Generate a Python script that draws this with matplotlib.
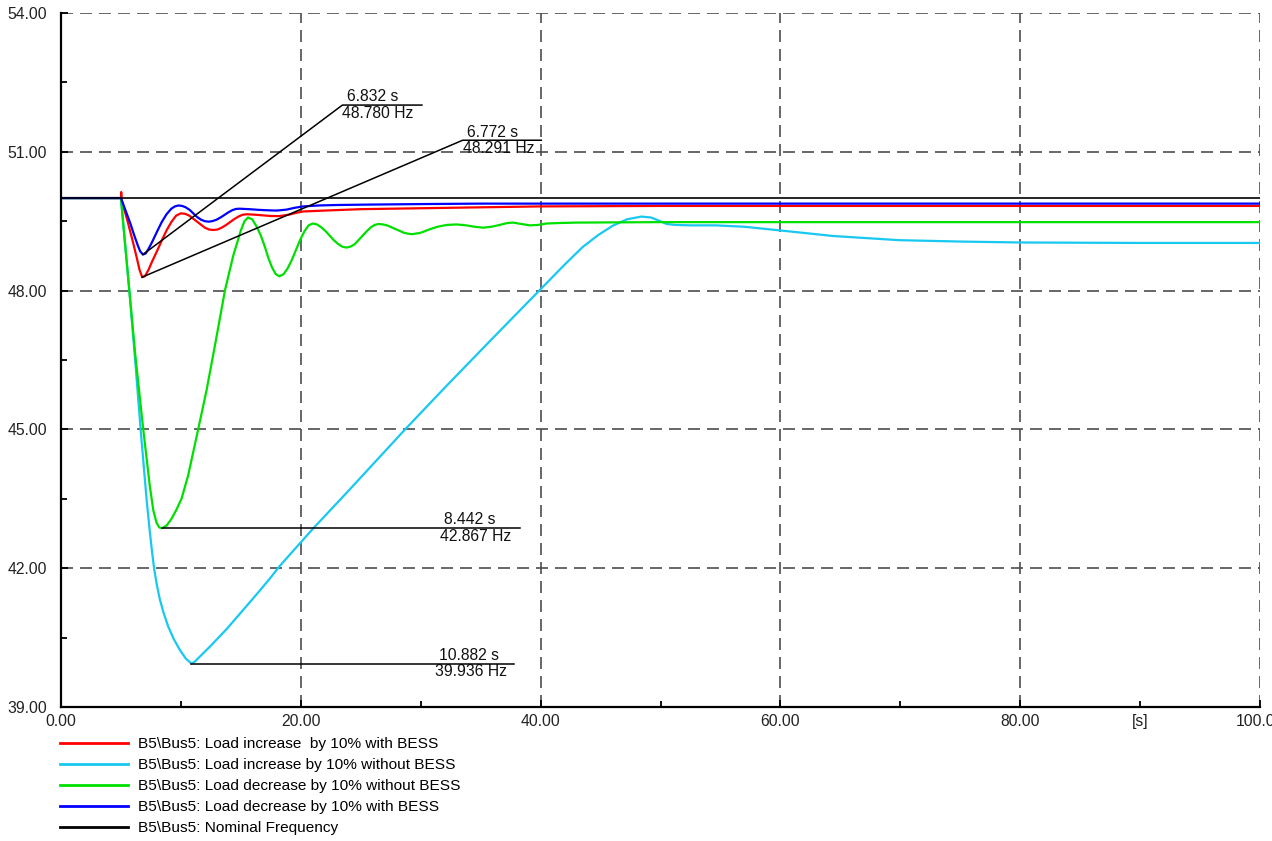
import matplotlib
matplotlib.use("Agg")
import matplotlib.pyplot as plt
from matplotlib.ticker import MultipleLocator, FormatStrFormatter
from matplotlib.lines import Line2D

plt.rcParams['font.family'] = ['Liberation Sans', 'DejaVu Sans']

# --- data (time in s, frequency in Hz) ---
red_t = [0, 5.0, 5.02, 5.06, 5.5, 6.0, 6.3, 6.55, 6.77, 7.0, 7.3, 7.6, 8.0, 8.4, 8.8,
         9.2, 9.6, 10.0, 10.35, 10.7, 11.0, 11.35, 11.7, 12.0, 12.35, 12.7, 13.05, 13.4,
         13.75, 14.1, 14.45, 14.8, 15.15, 15.5, 16.2, 16.9, 17.5, 18.2, 19.0, 19.6, 20.2,
         22.0, 25.0, 30.0, 35.0, 40.0, 50.0, 60.0, 80.0, 100.0]
red_f = [50.0, 50.0, 50.13, 49.95, 49.55, 49.05, 48.73, 48.45, 48.29, 48.31, 48.45,
         48.63, 48.85, 49.08, 49.3, 49.48, 49.62, 49.67, 49.66, 49.62, 49.56, 49.49,
         49.42, 49.36, 49.32, 49.31, 49.32, 49.36, 49.415, 49.48, 49.545, 49.6, 49.64,
         49.65, 49.64, 49.625, 49.612, 49.61, 49.64, 49.68, 49.71, 49.73, 49.76, 49.78,
         49.8, 49.82, 49.83, 49.83, 49.83, 49.83]

cyan_t = [0, 5.0, 5.35, 5.7, 6.2, 6.64, 7.14, 7.42, 7.6, 7.78, 8.0, 8.25, 8.55, 8.94,
          9.4, 9.92, 10.4, 10.88, 11.2, 11.58, 12.4, 13.8, 15.2, 16.3, 17.4, 18.25, 21.0,
          24.0, 28.7, 32.0, 36.0, 40.0, 42.0, 43.5, 44.8, 46.0, 47.2, 48.4, 49.2, 49.9,
          50.5, 51.2, 52.5, 54.6, 57.0, 60.0, 64.4, 69.9, 75.0, 80.0, 90.0, 100.0]
cyan_f = [50.0, 50.0, 49.0, 48.0, 46.45, 45.0, 43.48, 42.76, 42.34, 41.97, 41.63,
          41.32, 41.04, 40.74, 40.47, 40.23, 40.05, 39.936, 39.99, 40.09, 40.3, 40.68,
          41.1, 41.43, 41.77, 42.05, 42.85, 43.68, 45.0, 45.9, 46.97, 48.03, 48.56,
          48.94, 49.2, 49.4, 49.54, 49.6, 49.58, 49.51, 49.44, 49.42, 49.41, 49.41,
          49.38, 49.3, 49.18, 49.09, 49.06, 49.04, 49.03, 49.03]

green_t = [0, 5.0, 5.3, 5.7, 6.2, 6.86, 7.42, 7.7, 7.97, 8.2, 8.44, 8.8, 9.2, 9.6,
           10.05, 10.6, 11.44, 12.15, 12.9, 13.67, 14.36, 15.0, 15.3, 15.6, 15.95, 16.3,
           16.65, 17.0, 17.3, 17.6, 17.9, 18.2, 18.55, 18.9, 19.25, 19.6, 19.95, 20.3,
           20.65, 21.0, 21.35, 21.7, 22.05, 22.4, 22.75, 23.1, 23.45, 23.8, 24.14, 24.48,
           24.81, 25.15, 25.49, 25.83, 26.16, 26.5, 26.85, 27.2, 27.55, 27.9, 28.25,
           28.6, 28.95, 29.3, 30.0, 30.7, 31.4, 32.2, 33.0, 33.8, 34.5, 35.2, 35.9, 36.6,
           37.2, 37.7, 38.4, 39.1, 39.8, 40.5, 41.5, 43.0, 50.0, 60.0, 80.0, 100.0]
green_f = [50.0, 50.0, 49.13, 48.0, 46.6, 45.0, 43.75, 43.25, 42.98, 42.88, 42.867,
           42.92, 43.06, 43.25, 43.5, 44.0, 45.0, 45.86, 46.9, 48.0, 48.75, 49.3, 49.5,
           49.58, 49.54, 49.39, 49.2, 48.95, 48.7, 48.5, 48.36, 48.31, 48.35, 48.48,
           48.66, 48.88, 49.1, 49.28, 49.41, 49.45, 49.43, 49.37, 49.29, 49.19, 49.09,
           49.01, 48.95, 48.93, 48.95, 49.0, 49.09, 49.185, 49.28, 49.365, 49.42, 49.44,
           49.43, 49.41, 49.37, 49.33, 49.29, 49.25, 49.23, 49.22, 49.25, 49.32, 49.38,
           49.42, 49.43, 49.41, 49.38, 49.36, 49.38, 49.42, 49.46, 49.47, 49.44, 49.41,
           49.42, 49.45, 49.46, 49.47, 49.48, 49.48, 49.48, 49.48]

blue_t = [0, 5.0, 5.4, 5.8, 6.1, 6.4, 6.6, 6.83, 7.05, 7.3, 7.6, 8.0, 8.4, 8.8, 9.2,
          9.5, 9.8, 10.1, 10.4, 10.75, 11.05, 11.35, 11.7, 12.0, 12.3, 12.6, 12.95, 13.3,
          13.6, 13.95, 14.3, 14.6, 14.9, 15.7, 16.5, 17.3, 18.0, 18.8, 19.5, 20.2, 21.5,
          23.0, 26.0, 30.0, 35.0, 40.0, 50.0, 60.0, 80.0, 100.0]
blue_f = [50.0, 50.0, 49.72, 49.44, 49.2, 48.98, 48.85, 48.78, 48.8, 48.9, 49.05,
          49.27, 49.48, 49.65, 49.77, 49.82, 49.84, 49.83, 49.8, 49.74, 49.665, 49.59,
          49.53, 49.5, 49.49, 49.5, 49.53, 49.58, 49.63, 49.69, 49.74, 49.765, 49.77,
          49.76, 49.745, 49.735, 49.73, 49.75, 49.79, 49.82, 49.84, 49.85, 49.86, 49.87,
          49.88, 49.88, 49.88, 49.88, 49.88, 49.88]

nominal_t = [0, 100.0]
nominal_f = [50.0, 50.0]

series_labels = [
    "B5\\Bus5: Load increase  by 10% with BESS",
    "B5\\Bus5: Load increase by 10% without BESS",
    "B5\\Bus5: Load decrease by 10% without BESS",
    "B5\\Bus5: Load decrease by 10% with BESS",
    "B5\\Bus5: Nominal Frequency",
]

# annotated extrema
ann_t = [6.832, 6.772, 8.442, 10.882]
ann_f = [48.780, 48.291, 42.867, 39.936]

# label anchor (start of underline) and underline end, in data units
lab_x = [23.47, 33.5, 31.6, 31.17]
lab_y = [52.01, 51.25, 42.867, 39.936]
lab_end = [30.1, 40.06, 38.25, 37.8]

colors = ['#ff0000', '#18c8f0', '#00e000', '#0000ff', '#000000']
FS = 11.3

fig = plt.figure(figsize=(12.72, 8.41), dpi=100)
ax = fig.add_axes([61 / 1272, 1 - 707 / 841, 1199 / 1272, 694 / 841])

for (t, f), c in zip([(red_t, red_f), (cyan_t, cyan_f), (green_t, green_f),
                      (blue_t, blue_f)], colors[:4]):
    ax.plot(t, f, color=c, lw=1.6, zorder=3)
ax.plot(nominal_t, nominal_f, color='black', lw=1.2, zorder=4)

# annotation leaders
for t, f, lx, ly, le in zip(ann_t, ann_f, lab_x, lab_y, lab_end):
    ax.plot([t, lx, le], [f, ly, ly], color='black', lw=1.1, zorder=5)
    ax.annotate(f"{t:.3f} s", xy=(lx, ly), xytext=(3, 0.5), textcoords='offset points',
                ha='left', va='bottom', fontsize=FS, color='#111111')
    ax.annotate(f"{f:.3f} Hz", xy=(lx, ly), xytext=(0, -0.5), textcoords='offset points',
                ha='left', va='top', fontsize=FS, color='#111111')

ax.set_xlim(0, 100)
ax.set_ylim(39, 54)
ax.xaxis.set_major_locator(MultipleLocator(20))
ax.xaxis.set_minor_locator(MultipleLocator(10))
ax.yaxis.set_major_locator(MultipleLocator(3))
ax.yaxis.set_minor_locator(MultipleLocator(1.5))
ax.xaxis.set_major_formatter(FormatStrFormatter('%.2f'))
ax.yaxis.set_major_formatter(FormatStrFormatter('%.2f'))
ax.tick_params(which='both', direction='in', color='black', width=1.3, labelsize=FS,
               labelcolor='#222222')
ax.tick_params(which='major', length=5)
ax.tick_params(which='minor', length=4)
ax.tick_params(axis='y', pad=10)
ax.tick_params(axis='x', pad=5)

ax.grid(True, which='major', color='#4d4d4d', lw=1.2, linestyle=(0, (7.2, 4.2)))
for side in ['top', 'right']:
    ax.spines[side].set_visible(False)
for side in ['left', 'bottom']:
    ax.spines[side].set_linewidth(1.6)
    ax.spines[side].set_zorder(6)

ax.annotate("[s]", xy=(90, 39), xytext=(0, -5), textcoords='offset points',
            ha='center', va='top', fontsize=FS, color='#222222')

handles = [Line2D([], [], color=c, lw=2) for c in colors]
fig.legend(handles, series_labels, loc='upper left',
           bbox_to_anchor=(60 / 1272, 1 - 737 / 841), frameon=False, fontsize=11.1,
           handlelength=4.4, handletextpad=0.66, labelspacing=0.46, borderpad=0,
           borderaxespad=0)

fig.savefig("out.png", dpi=100)
